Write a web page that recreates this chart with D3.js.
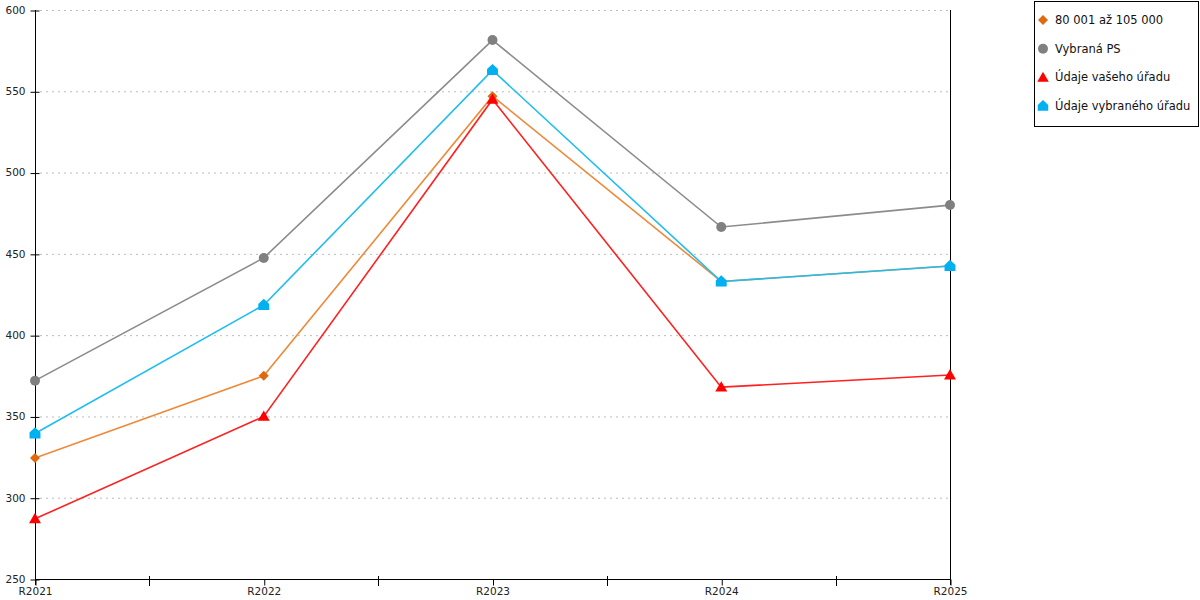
<!DOCTYPE html>
<html>
<head>
<meta charset="utf-8">
<script src="https://cdn.jsdelivr.net/npm/d3@7"></script>
<style>
  html, body { margin: 0; padding: 0; background: #fff; }
  svg { display: block; font-family: "DejaVu Sans", Verdana, sans-serif; }
</style>
</head>
<body>
<svg id="chart" width="1200" height="600"></svg>
<script>
const categories = ["R2021", "R2022", "R2023", "R2024", "R2025"];
const yTicks = [250, 300, 350, 400, 450, 500, 550, 600];
const seriesNames = ["80 001 až 105 000", "Vybraná PS", "Údaje vašeho úřadu", "Údaje vybraného úřadu"];
const bandValues = [324.5, 375, 547, 433, 442.5];
const psValues = [372, 447.5, 581.5, 466.5, 480];
const ownValues = [287, 350, 545, 368, 375.5];
const selectedValues = [339.5, 418.5, 563, 433, 442.5];

const colors = ["#E0680F", "#808080", "#FF0000", "#00B0F0"];
const lineColors = ["#EE8A3A", "#8C8C8C", "#FF2020", "#20BEEF"];
const shapes = ["diamond", "circle", "triangle", "house"];
const seriesValues = [bandValues, psValues, ownValues, selectedValues];

(function () {
const svg = d3.select("#chart");
const pLeft = 35, pRight = 950, pTop = 10, pBottom = 579;

const x = d3.scalePoint().domain(categories).range([pLeft, pRight]);
const y = d3.scaleLinear().domain([250, 600]).range([pBottom, pTop]);

// gridlines
svg.append("g").selectAll("line").data(yTicks.filter(d => d > 250)).join("line")
  .attr("x1", pLeft + 5).attr("x2", pRight)
  .attr("y1", d => y(d) + 0.5).attr("y2", d => y(d) + 0.5)
  .attr("stroke", "#bcbcbc").attr("stroke-width", 1).attr("stroke-dasharray", "2,4");

// y axis
const yAxis = svg.append("g").attr("transform", `translate(${pLeft + 0.5},0)`)
  .call(d3.axisLeft(y).tickValues(yTicks).tickSize(5).tickSizeOuter(0).tickPadding(5));
yAxis.select(".domain").attr("stroke", "#000").attr("d", `M0,${pTop}V${pBottom + 6}`);
yAxis.selectAll(".tick line").attr("stroke", "#000").attr("x2", -5).attr("x1", 4)
  .attr("transform", "translate(0,0.5)");
yAxis.selectAll(".tick text").attr("font-size", 10.5).attr("fill", "#222")
  .attr("font-family", "DejaVu Sans, Verdana, sans-serif").attr("x", -10);

// x axis
const xAxis = svg.append("g").attr("transform", `translate(0,${pBottom + 0.5})`)
  .call(d3.axisBottom(x).tickSize(6).tickSizeOuter(0).tickPadding(5));
xAxis.select(".domain").attr("stroke", "#000").attr("d", `M${pLeft},0H${pRight}`);
xAxis.selectAll(".tick line").attr("stroke", "#000").attr("transform", "translate(0.5,0)");
xAxis.selectAll(".tick text").attr("font-size", 10.5).attr("fill", "#222")
  .attr("font-family", "DejaVu Sans, Verdana, sans-serif").attr("y", 8);

// minor ticks between categories
const mids = categories.slice(1).map((c, i) => (x(categories[i]) + x(c)) / 2);
svg.append("g").selectAll("line").data(mids).join("line")
  .attr("x1", d => Math.round(d) + 0.5).attr("x2", d => Math.round(d) + 0.5)
  .attr("y1", pBottom - 3).attr("y2", pBottom + 7)
  .attr("stroke", "#000");

// right vertical line
svg.append("line").attr("x1", pRight + 0.5).attr("x2", pRight + 0.5)
  .attr("y1", pTop).attr("y2", pBottom + 6).attr("stroke", "#000");

function markerPath(shape, s) {
  if (shape === "diamond") return `M0,${-s}L${s},0L0,${s}L${-s},0Z`;
  if (shape === "circle") return d3.symbol(d3.symbolCircle, Math.PI * s * s)();
  if (shape === "triangle") return `M0,${-s * 1.15}L${s * 1.15},${s * 0.85}L${-s * 1.15},${s * 0.85}Z`;
  if (shape === "house") return `M0,${-s * 1.2}L${s * 1.05},${-s * 0.2}L${s * 1.05},${s * 0.95}L${-s * 1.05},${s * 0.95}L${-s * 1.05},${-s * 0.2}Z`;
}
const sizes = [5, 5, 5.2, 5.2];

const line = d3.line().x((d, i) => x(categories[i])).y(d => y(d));

seriesValues.forEach((vals, k) => {
  const g = svg.append("g");
  g.append("path").datum(vals).attr("d", line)
    .attr("fill", "none").attr("stroke", lineColors[k]).attr("stroke-width", 1.6);
  g.selectAll("path.m").data(vals).join("path").attr("class", "m")
    .attr("transform", (d, i) => `translate(${x(categories[i])},${y(d)})`)
    .attr("d", markerPath(shapes[k], sizes[k]))
    .attr("fill", colors[k]);
});

// legend
const lg = svg.append("g");
lg.append("rect").attr("x", 1034.5).attr("y", 1.5).attr("width", 164).attr("height", 125)
  .attr("fill", "#fff").attr("stroke", "#000");
seriesNames.forEach((name, k) => {
  const cy = 20 + k * 28.7;
  lg.append("path").attr("transform", `translate(1043,${cy})`)
    .attr("d", markerPath(shapes[k], 5)).attr("fill", colors[k]);
  lg.append("text").attr("x", 1055).attr("y", cy + 4).attr("font-size", 11.5)
    .attr("fill", "#111").text(name);
});
})();
</script>
</body>
</html>
